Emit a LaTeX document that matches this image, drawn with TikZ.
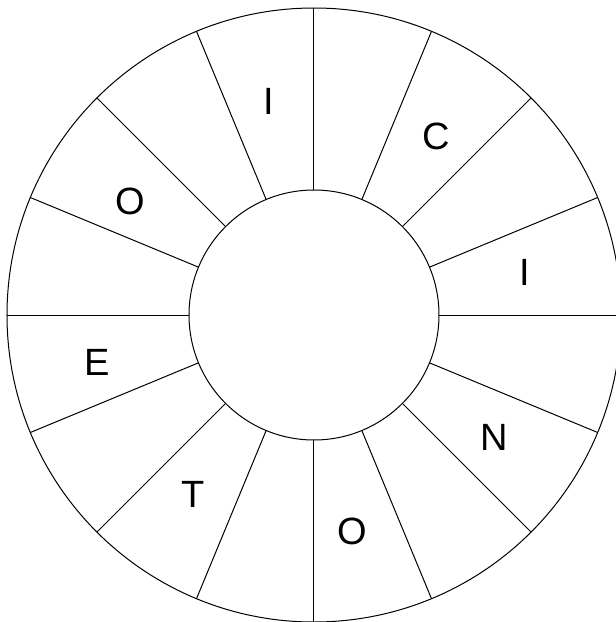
\documentclass[tikz,border=0pt]{standalone}
\usepackage{fontspec}
\setmainfont{Liberation Sans}
\usetikzlibrary{positioning}
\tikzset{
   every path/.style={line width=1pt},
   letter/.style={font=\fontsize{38}{42}\selectfont, inner sep=0pt},
}

\begin{document}
\begin{tikzpicture}[x=1pt,y=1pt]

\useasboundingbox (-314,-307) rectangle (302,315);

% =========================================================
% rings
% =========================================================

\draw (0,0) circle (307);
\draw (0,0) circle (125);

% spokes
\foreach \a in {0,22.5,...,337.5}
   \draw (\a:125) -- (\a:307);


% =========================================================
% letters
% =========================================================

\node[letter] (l1) at (-45,213.5) {I};
\node[letter] (l2) at (122,178.7) {C};
\node[letter] (l3) at (210.5,43) {I};
\node[letter] (l4) at (180,-122.5) {N};
\node[letter] (l5) at (38.5,-216.5) {O};
\node[letter] (l6) at (-121,-179.5) {T};
\node[letter] (l7) at (-216.5,-47.5) {E};
\node[letter] (l8) at (-184,113.3) {O};

\end{tikzpicture}
\end{document}
